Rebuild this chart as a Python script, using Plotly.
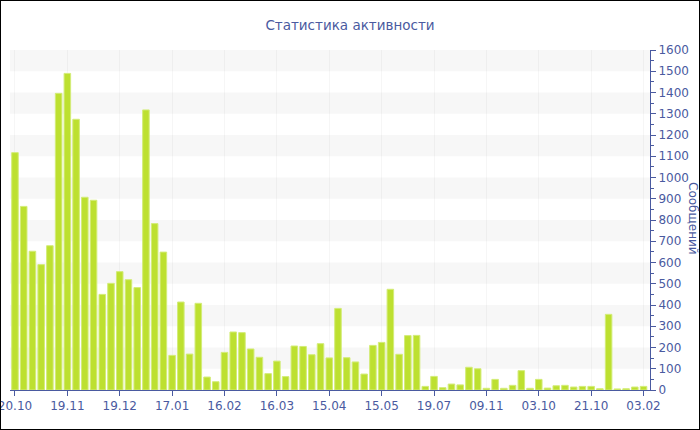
import plotly.graph_objects as go

# Weekly message counts
messages = [
    1117, 864, 653, 590, 679, 1396, 1490, 1274, 907, 893,
    450, 502, 557, 519, 482, 1318, 783, 649, 163, 414,
    169, 408, 61, 39, 177, 273, 270, 193, 154, 77,
    136, 63, 207, 205, 166, 218, 151, 384, 152, 132,
    75, 210, 224, 474, 168, 256, 257, 17, 64, 11,
    28, 24, 107, 100, 8, 50, 8, 22, 91, 8,
    50, 9, 20, 22, 14, 17, 17, 6, 356, 5,
    6, 14, 17,
]
week_index = list(range(len(messages)))

# Every sixth week carries a label
tick_labels = ['20.10', '19.11', '19.12', '17.01', '16.02', '16.03', '15.04',
               '15.05', '19.07', '09.11', '03.10', '21.10', '03.02']
tick_positions = week_index[::6]

blue = '#4a5aa0'
bar_color = '#bde030'
font_family = 'DejaVu Sans'

W, H = 700, 430
margin = {'l': 10, 'r': 50, 't': 50, 'b': 40}
plot_w = W - margin['l'] - margin['r']
plot_h = H - margin['t'] - margin['b']

fig = go.Figure()
fig.add_trace(go.Bar(
    x=week_index,
    y=messages,
    marker={'color': bar_color, 'line': {'color': '#d3ec78', 'width': 1}},
    hoverinfo='y',
))

# Alternating horizontal bands behind the bars
shapes = []
for lo in range(100, 1600, 200):
    shapes.append(dict(type='rect', xref='paper', yref='y', x0=0, x1=1,
                       y0=lo, y1=lo + 100, fillcolor='#f7f7f7',
                       line={'width': 0}, layer='below'))

# Black frame around the whole picture
shapes.append(dict(type='rect', xref='paper', yref='paper',
                   x0=-margin['l'] / plot_w, x1=1 + margin['r'] / plot_w,
                   y0=-margin['b'] / plot_h, y1=1 + margin['t'] / plot_h,
                   line={'color': 'black', 'width': 2}, layer='above'))

fig.update_layout(
    width=W, height=H,
    margin=margin,
    plot_bgcolor='white',
    paper_bgcolor='white',
    font={'family': font_family, 'color': blue, 'size': 12},
    title={'text': 'Статистика активности', 'x': 0.5, 'xref': 'container',
           'xanchor': 'center', 'y': 1 - 25 / H, 'yanchor': 'middle',
           'font': {'size': 13.5, 'color': blue}},
    bargap=0.25,
    showlegend=False,
    shapes=shapes,
)

fig.update_xaxes(
    range=[-0.57, 72.74],
    tickmode='array', tickvals=tick_positions, ticktext=tick_labels,
    showline=True, linecolor=blue, linewidth=1,
    ticks='outside', ticklen=5, tickcolor=blue,
    showgrid=True, gridcolor='rgba(0,0,0,0.035)',
    zeroline=False, automargin=False, ticklabeloverflow='allow',
)

fig.update_yaxes(
    side='right',
    range=[0, 1600], dtick=100,
    showline=True, linecolor=blue, linewidth=1,
    ticks='outside', ticklen=5, tickcolor=blue,
    minor={'dtick': 50, 'ticks': 'outside', 'ticklen': 3, 'tickcolor': blue},
    showgrid=False, zeroline=False, automargin=False,
    ticklabeloverflow='allow',
)

# Axis title on the right, reading top to bottom
fig.add_annotation(
    text='Сообщений', textangle=90,
    xref='paper', yref='paper',
    x=1 + 34 / plot_w, y=(390 - 218) / plot_h,
    xanchor='left', yanchor='middle', showarrow=False,
    font={'size': 12, 'color': blue},
)

# Drop the default page margin so the figure sits at the window corner
fig.write_html('out.html', config={'displayModeBar': False},
               post_script="document.body.style.margin='0';")
